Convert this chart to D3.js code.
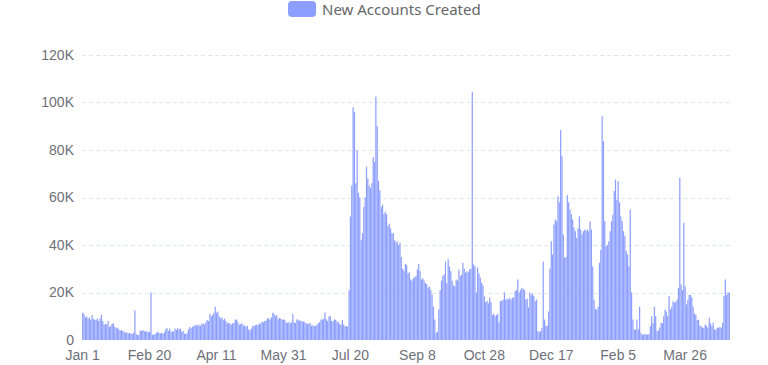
<!DOCTYPE html>
<html>
<head>
<meta charset="utf-8">
<script src="https://cdn.jsdelivr.net/npm/d3@7/dist/d3.min.js"></script>
<style>
  html, body { margin: 0; padding: 0; background: #fff; }
  svg { display: block; font-family: "Noto Sans", "Open Sans", sans-serif; }
</style>
</head>
<body>
<svg id="chart" width="768" height="365"></svg>
<script>
// ---- data ----
const seriesName = "New Accounts Created";
const startDate = "2023-01-01";
const dayCount = 484;
const tickLabels = ["Jan 1", "Feb 20", "Apr 11", "May 31", "Jul 20", "Sep 8", "Oct 28", "Dec 17", "Feb 5", "Mar 26"];
const tickIndices = [0, 50, 100, 150, 200, 250, 300, 350, 400, 450];
const yTicks = [0, 20000, 40000, 60000, 80000, 100000, 120000];
// daily values in thousands
const valuesK = [
  11.5, 11, 9.5, 10, 9, 9.5, 8.5, 10.5, 9, 8.5,
  8.5, 9, 8, 9, 10.7, 8, 6.5, 6.8, 6.5, 8,
  5.5, 6, 6.8, 7, 5.5, 5, 5.2, 4.5, 4, 4.2,
  3.8, 3.5, 3, 3.2, 2.8, 3, 2.7, 2.5, 3, 12.5,
  2.5, 2, 2.2, 4, 3.8, 4.2, 3.7, 3.5, 3.7, 3.2,
  3.5, 20, 2.3, 2.2, 2.5, 3, 3.5, 3, 2.8, 3,
  2.7, 3.2, 4.5, 5, 3.8, 4.8, 3.5, 3.7, 3.5, 4.8,
  4.2, 5, 4.5, 4.8, 3.5, 3.8, 2.7, 2.5, 3, 4.5,
  5.5, 5, 5.5, 6, 6.3, 6, 6.5, 6.2, 6, 6.8,
  7, 6.5, 7.5, 8.5, 8, 11, 10, 10.5, 11.5, 14,
  11.5, 12, 10, 9, 9.5, 8.5, 9, 8, 7, 7.2,
  7, 6.5, 7, 7.2, 8.7, 8.5, 7.5, 6.5, 6.7, 7,
  6, 6.2, 5.5, 6, 4.5, 4, 4.8, 5.8, 6, 6.2,
  6.5, 6.3, 7, 6.8, 7.8, 7.5, 8, 8.2, 9, 9.2,
  8.5, 9.5, 11.5, 11, 10, 10.5, 8.7, 9.3, 9, 8.5,
  8.7, 8.5, 7.4, 7.2, 7.5, 7, 7.5, 11, 7.4, 7.2,
  8.7, 8.5, 8, 8.2, 7.7, 7.8, 7.5, 7, 6.8, 7,
  7, 6, 6.2, 5.8, 6, 6.5, 7, 7.5, 8.7, 8.5,
  9, 11.6, 8.7, 8, 10, 10, 8, 7.8, 8.7, 8.5,
  7.7, 7.5, 6.7, 6.5, 8.5, 6.5, 5.8, 5.8, 5.8, 21,
  52, 65, 98, 96, 66, 80, 62, 60, 42, 45,
  56, 60, 73, 68, 65, 64, 66, 77, 75, 102.5,
  90, 67, 63, 56, 57, 53, 54, 53, 48, 49,
  47, 45, 45, 42, 41, 41.6, 40, 41, 35, 30,
  29, 32, 31.5, 28, 28.5, 25.5, 25, 26, 26.5, 27,
  29.7, 32, 29, 25.5, 26, 25, 24, 23.5, 22, 22.5,
  21, 19, 14, 8.6, 3, 3.5, 12.8, 21, 25, 27,
  27.6, 33, 24, 34, 31, 29, 25, 23, 22.6, 25.5,
  25, 29.7, 27, 27.5, 32.5, 30, 28.4, 29, 28.5, 29.7,
  30, 104.5, 31.8, 31, 20, 30.5, 28, 26.3, 24, 23,
  18.4, 16, 16.5, 15.5, 17.8, 16, 10.5, 11, 10, 10.5,
  11, 7.4, 16.3, 16.5, 17, 20, 17, 17.5, 17, 17.7,
  17, 17.7, 18, 20.5, 21, 25.5, 20, 21, 22, 21.5,
  21, 17, 17.5, 13.7, 20, 19, 19.5, 18.5, 16.3, 17,
  3.7, 3.5, 3.7, 5, 33, 8.6, 6, 6, 12, 30,
  41.6, 36, 48.6, 50.7, 50, 60.5, 58, 88.4, 77.4, 44.4,
  34.7, 35, 61, 58, 55, 53, 50.7, 47.4, 45.8, 43,
  47, 52, 46.5, 44.4, 45.8, 46.5, 46, 46.5, 45.8, 50,
  46.5, 31, 17, 13, 12.8, 14, 32.5, 38, 94.2, 83.7,
  50, 39.5, 40, 41.6, 45.8, 50, 52.8, 62.7, 67.6, 59,
  66.9, 58, 52, 50, 45.8, 43.7, 37.4, 36, 31, 55,
  20, 8.6, 4.4, 4.4, 8.6, 4.4, 14, 3, 2.3, 2.3,
  2.5, 2.3, 2.3, 2.5, 5.8, 10, 7, 14, 10, 3.7,
  4, 5.2, 7.3, 7, 10, 12.8, 12, 10, 18.5, 12.8,
  14, 16.3, 15.7, 16, 17, 22, 68.3, 23.4, 21, 49.3,
  22.6, 15, 17, 19, 19, 18, 14, 11, 10.7, 8.5,
  8.5, 6, 5.8, 5.2, 5.2, 6.5, 6, 5.2, 9.4, 7,
  5.8, 7.3, 4.4, 4.4, 5.2, 5.2, 5.4, 5.2, 7.3, 18.5,
  25.5, 19, 20, 20
];

// ---- layout ----
const W = 768, H = 365;
const margin = { left: 82, right: 38, top: 55, bottom: 25 };
const innerW = W - margin.left - margin.right;
const innerH = H - margin.top - margin.bottom;
const barColor = "#8c9eff";
const textColor = "#6e7079";

const dayFmt = d3.timeFormat("%b %-d");
const start = d3.timeParse("%Y-%m-%d")(startDate);
const days = d3.timeDay.range(start, d3.timeDay.offset(start, dayCount));
const categories = days.map(d => dayFmt(d));
const data = categories.map((c, i) => ({ key: i, label: c, value: valuesK[i] * 1000 }));

const svg = d3.select("#chart");
const g = svg.append("g").attr("transform", `translate(${margin.left},${margin.top})`);

const x = d3.scaleBand().domain(data.map(d => d.key)).range([0, innerW]).paddingInner(0.1).paddingOuter(0.05);
const y = d3.scaleLinear().domain([0, 120000]).range([innerH, 0]);

// grid lines
g.append("g").selectAll("line").data(yTicks.filter(t => t > 0)).join("line")
  .attr("x1", 0).attr("x2", innerW)
  .attr("y1", d => Math.round(y(d)) + 0.5).attr("y2", d => Math.round(y(d)) + 0.5)
  .attr("stroke", "#e0e6f1").attr("stroke-dasharray", "4,3");

// y axis
const yAxis = d3.axisLeft(y).tickValues(yTicks).tickSize(0).tickPadding(8)
  .tickFormat(d => d === 0 ? "0" : (d / 1000) + "K");
const yg = g.append("g").call(yAxis);
yg.select(".domain").remove();
yg.selectAll("text").attr("fill", textColor).style("font-size", "14px");

// bars
g.append("g").selectAll("rect").data(data).join("rect")
  .attr("x", d => x(d.key))
  .attr("width", x.bandwidth())
  .attr("y", d => y(d.value))
  .attr("height", d => innerH - y(d.value))
  .attr("fill", barColor);

// x axis
const xAxis = d3.axisBottom(x).tickValues(tickIndices).tickSize(0).tickPadding(10)
  .tickFormat((k, i) => tickLabels[i]);
const xg = g.append("g").attr("transform", `translate(0,${innerH})`).call(xAxis);
xg.select(".domain").remove();
xg.selectAll("text").attr("fill", textColor).style("font-size", "14px");

// legend
const lg = svg.append("g").attr("transform", "translate(288,1)");
lg.append("rect").attr("x", 0).attr("y", 0).attr("width", 28).attr("height", 16).attr("rx", 4).attr("fill", barColor);
lg.append("text").attr("x", 34).attr("y", 9).attr("dy", "0.35em")
  .attr("fill", "#666").style("font-size", "15px").text(seriesName);
</script>
</body>
</html>
